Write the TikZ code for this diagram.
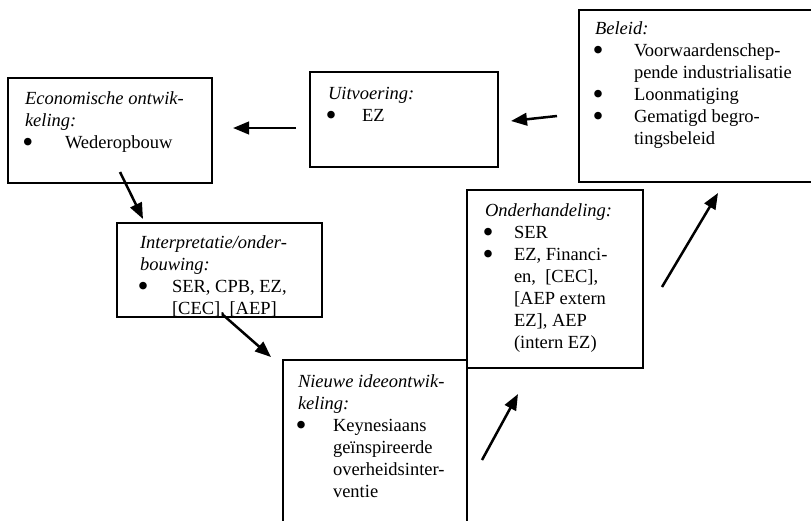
\documentclass[tikz,border=0pt]{standalone}
\usepackage{fontspec}
\setmainfont{Liberation Serif}
\usetikzlibrary{arrows.meta}

% enlarged bullet followed by the item indent, and the matching indent for continuation lines
\newcommand\bul[1]{\makebox[#1][l]{\hspace{-2.5pt}\smash{\raisebox{-4.6pt}{\scalebox{1.7}{\textbullet}}}}}
\newcommand\ind[1]{\hspace*{#1}}

\begin{document}
\begin{tikzpicture}[x=1pt,y=-1pt,
  panel/.style={draw, line width=1.8pt, rectangle, inner sep=0pt, outer sep=0pt, anchor=north west},
  blurb/.style={anchor=north west, inner sep=0pt, outer sep=0pt, align=left,
                font=\fontsize{18.5}{22}\selectfont},
  flow/.style={line width=2.5pt, -{Triangle[length=16pt,width=12.5pt]}}]

\useasboundingbox (0,0) rectangle (811,520);
\fill[white] (0,0) rectangle (811,520);
\clip (0,0) rectangle (811,520);

% frames
\node[panel, minimum width=204pt, minimum height=105pt] (eco) at (8,78) {};
\node[panel, minimum width=188pt, minimum height=95pt]  (uit) at (310,72) {};
\node[panel, minimum width=262pt, minimum height=172pt] (bel) at (579,10) {};
\node[panel, minimum width=205pt, minimum height=94pt]  (int) at (117,223) {};
\node[panel, minimum width=184pt, minimum height=180pt] (nie) at (283,360) {};
\node[panel, minimum width=176pt, minimum height=178pt] (ond) at (467,190) {};

% texts (first baseline sits 15.4pt below each node's top)
\node[blurb] (ecotxt) at (25,88.6)
  {\strut\textit{Economische ontwik-}\\
   \textit{keling:}\\
   \bul{40pt}Wederopbouw};
\node[blurb] (uittxt) at (328,83.6)
  {\strut\textit{Uitvoering:}\\
   \bul{34pt}EZ};
\node[blurb] (beltxt) at (595,18.6)
  {\strut\textit{Beleid:}\\
   \bul{39pt}Voorwaardenschep-\\
   \ind{39pt}pende industrialisatie\\
   \bul{39pt}Loonmatiging\\
   \bul{39pt}Gematigd begro-\\
   \ind{39pt}tingsbeleid};
\node[blurb] (inttxt) at (140,232.6)
  {\strut\textit{Interpretatie/onder-}\\
   \textit{bouwing:}\\
   \bul{32pt}SER, CPB, EZ,\\
   \ind{32pt}[CEC], [AEP]};
\node[blurb] (nietxt) at (298,371.6)
  {\strut\textit{Nieuwe ideeontwik-}\\
   \textit{keling:}\\
   \bul{35pt}Keynesiaans\\
   \ind{35pt}geïnspireerde\\
   \ind{35pt}overheidsinter-\\
   \ind{35pt}ventie};
\node[blurb] (ondtxt) at (485,200.6)
  {\strut\textit{Onderhandeling:}\\
   \bul{29pt}SER\\
   \bul{29pt}EZ, Financi-\\
   \ind{29pt}en,\ \ [CEC],\\
   \ind{29pt}[AEP extern\\
   \ind{29pt}EZ], AEP\\
   \ind{29pt}(intern EZ)};

% cycle arrows
\draw[flow] ([shift={(-14,8.5)}]uit.west) -- ([shift={(21,-2.5)}]eco.east);
\draw[flow] ([shift={(-22,20)}]bel.west) -- ([shift={(13,1.5)}]uit.east);
\draw[flow] ([shift={(10,-11)}]eco.south) -- ([shift={(26,-4)}]int.north west);
\draw[flow] ([shift={(2.5,-3)}]int.south) -- ([shift={(-12,-3)}]nie.north west);
\draw[flow] ([shift={(15,100)}]nie.north east) -- ([shift={(51,26)}]ond.south west);
\draw[flow] ([shift={(19,8)}]ond.east) -- ([shift={(8,11)}]bel.south);
\end{tikzpicture}
\end{document}
